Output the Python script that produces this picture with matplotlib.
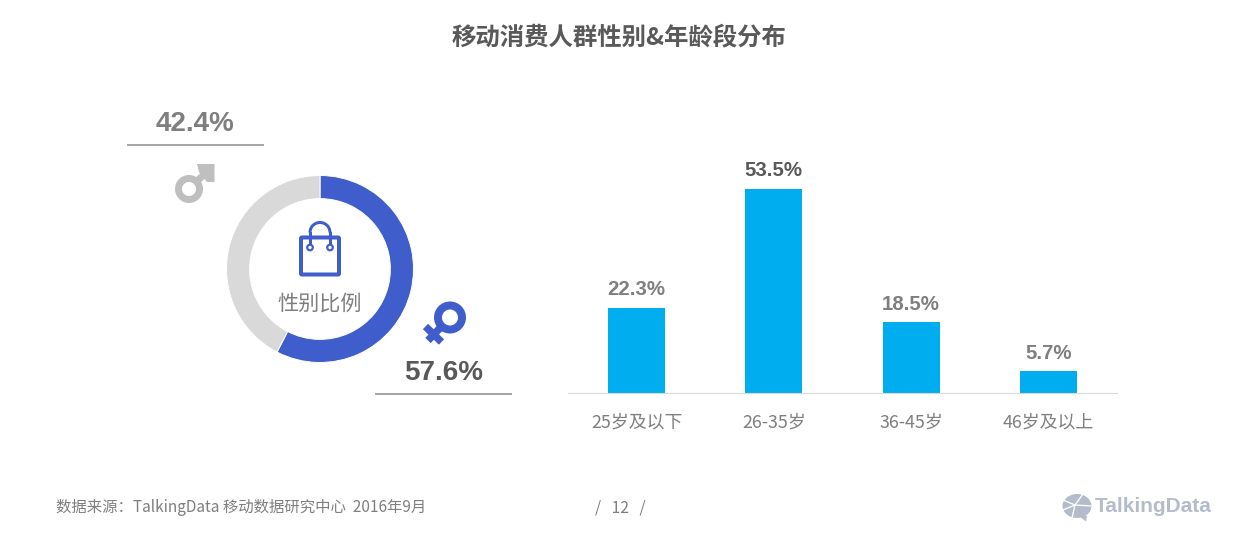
import matplotlib
matplotlib.use("Agg")
import matplotlib.pyplot as plt
from matplotlib.patches import Arc, Circle, Ellipse, FancyBboxPatch, Polygon

plt.rcParams["font.family"] = ["Noto Sans CJK SC", "DejaVu Sans"]

# data
age_labels = ["25岁及以下", "26-35岁", "36-45岁", "46岁及以上"]
age_values = [22.3, 53.5, 18.5, 5.7]
gender_values = [57.6, 42.4]
female_share = "57.6%"
male_share = "42.4%"

BLUE = "#3f5ecb"
CYAN = "#00aeef"
GRAY = "#7f7f7f"
DARK = "#595959"
LIGHT = "#d9d9d9"
LOGO = "#b4bccc"
W, H = 1239, 542
LATIN = ["Liberation Sans", "DejaVu Sans"]


def box(x0, y0, x1, y1):
    # pixel box (y from the top) to figure fractions
    return [x0 / W, 1 - y1 / H, (x1 - x0) / W, (y1 - y0) / H]


def px(n):
    return n * 72 / 100


fig = plt.figure(figsize=(W / 100, H / 100), dpi=100, facecolor="white")

# overlay in pixel coordinates for the decoration
bg = fig.add_axes([0, 0, 1, 1])
bg.set_xlim(0, W)
bg.set_ylim(H, 0)
bg.axis("off")

# donut
ax_pie = fig.add_axes(box(226.5, 175.5, 413.5, 362.5))
ax_pie.pie(gender_values, colors=[BLUE, LIGHT], startangle=90, counterclock=False,
           radius=1, wedgeprops=dict(width=23 / 93, edgecolor="white", linewidth=0.7))
ax_pie.set_xlim(-1, 1)
ax_pie.set_ylim(-1, 1)

# bars
ax_bar = fig.add_axes(box(568, 393 - 60 * 3.813, 1117, 393))
ax_bar.patch.set_alpha(0)
bars = ax_bar.bar(range(len(age_values)), age_values, width=0.415, color=CYAN)
ax_bar.set_xlim(-0.5, 3.5)
ax_bar.set_ylim(0, 60)
ax_bar.set_yticks([])
ax_bar.set_xticks(range(len(age_labels)), labels=age_labels)
ax_bar.tick_params(axis="x", length=0, pad=15, labelsize=12.9, labelcolor=GRAY)
for side in ["top", "left", "right"]:
    ax_bar.spines[side].set_visible(False)
ax_bar.spines["bottom"].set_color(LIGHT)
ax_bar.spines["bottom"].set_linewidth(0.8)
labels = ax_bar.bar_label(bars, fmt="%.1f%%", padding=6.2, fontsize=14.7,
                          fontweight="bold", family=LATIN)
for lab, val in zip(labels, age_values):
    lab.set_color(DARK if val == max(age_values) else GRAY)

# title
bg.text(619.5, 37, "移动消费人群性别&年龄段分布", fontsize=17.6, fontweight="bold",
        color=DARK, ha="center", va="center")

# gender shares
bg.text(195, 124, male_share, fontsize=20, fontweight="bold", color=GRAY,
        ha="center", va="center", family=LATIN)
bg.text(443.5, 373, female_share, fontsize=20, fontweight="bold", color=DARK,
        ha="center", va="center", family=LATIN)
bg.plot([127, 264], [145, 145], color="#a6a6a6", lw=px(2), solid_capstyle="butt")
bg.plot([375, 512], [394, 394], color="#a6a6a6", lw=px(2), solid_capstyle="butt")

# male sign
MALE = "#bfbfbf"
bg.add_patch(Circle((189, 189), 10.5, fc="none", ec=MALE, lw=px(7)))
bg.plot([196, 208], [182, 171], color=MALE, lw=px(7), solid_capstyle="butt")
bg.add_patch(Polygon([(197, 164), (214.5, 164), (214.5, 182), (207, 182), (199, 172)],
                     fc=MALE, ec="none"))

# female sign
bg.add_patch(Circle((450, 317.5), 12, fc="none", ec=BLUE, lw=px(8)))
bg.plot([441, 428], [327, 340.5], color=BLUE, lw=px(7.5), solid_capstyle="butt")
bg.plot([425.5, 441.5], [326.5, 342], color=BLUE, lw=px(7.5), solid_capstyle="butt")

# shopping bag
bg.add_patch(FancyBboxPatch((301, 237.5), 38, 37, boxstyle="round,pad=0,rounding_size=1",
                            fc="none", ec=BLUE, lw=px(4)))
bg.plot([310, 310], [245, 232.5], color=BLUE, lw=px(3))
bg.plot([330, 330], [245, 232.5], color=BLUE, lw=px(3))
bg.add_patch(Arc((320, 232.5), 20, 20, theta1=180, theta2=360, ec=BLUE, lw=px(3)))
for cx in [310, 330]:
    bg.add_patch(Circle((cx, 247.5), 2.8, fc="white", ec=BLUE, lw=px(2.2), zorder=3))
ax_pie.set_zorder(0)
bg.set_zorder(2)
ax_bar.set_zorder(1)
bg.patch.set_alpha(0)

bg.text(320, 304, "性别比例", fontsize=15.2, color=GRAY, ha="center", va="center")

# footer
bg.text(56, 507.5, "数据来源：TalkingData 移动数据研究中心  2016年9月", fontsize=11.1,
        color=GRAY, ha="left", va="center")
bg.text(620, 508, "/   12   /", fontsize=11.3, color=GRAY, ha="center", va="center")

# logo
bg.add_patch(Ellipse((1077, 506), 29, 24, fc=LOGO, ec="none"))
bg.add_patch(Polygon([(1078, 515), (1087, 516), (1086, 521.5)], fc=LOGO, ec="none"))
for x1, y1 in [(1063, 500), (1083, 494), (1092, 506), (1072, 518), (1063, 510)]:
    bg.plot([1075, x1], [505, y1], color="white", lw=px(1.3))
bg.text(1095, 507, "TalkingData", fontsize=15, fontweight="bold", color=LOGO,
        ha="left", va="center", family=LATIN)

fig.savefig("out.png", dpi=100)
